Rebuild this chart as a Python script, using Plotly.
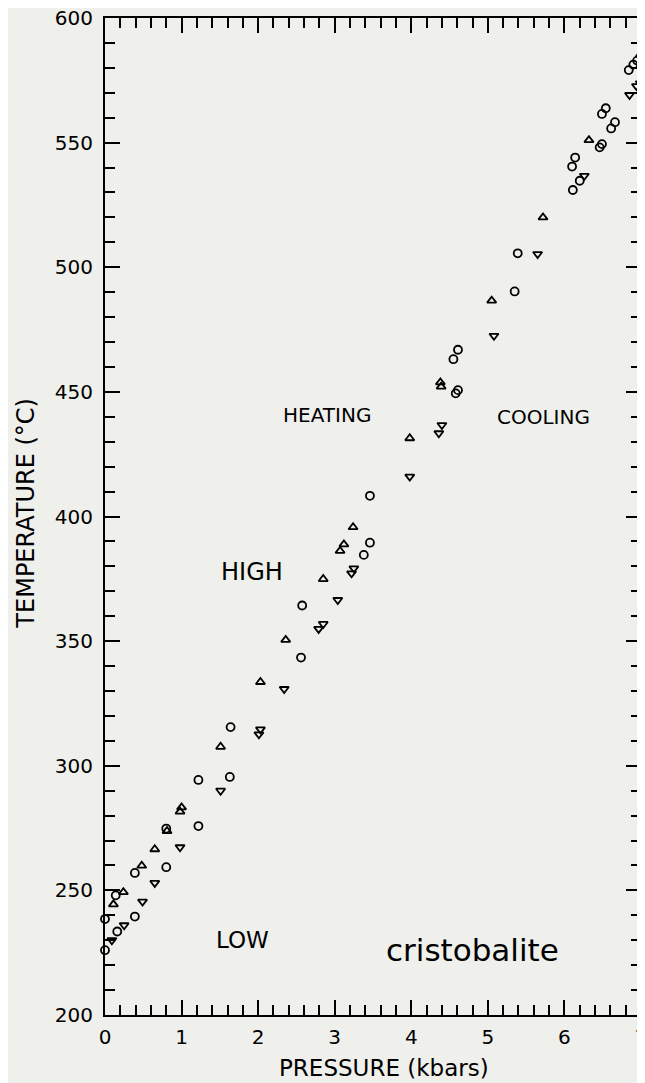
import plotly.graph_objects as go

# ---- data (pressure in kbar, temperature in °C) ----
circle_p = [0.00, 0.00, 0.14, 0.16, 0.39, 0.39, 0.80, 0.80, 1.22, 1.22, 1.63, 1.64,
            2.56, 2.575, 3.38, 3.46, 3.46, 4.55, 4.61, 4.58, 4.61, 5.35, 5.39,
            6.11, 6.20, 6.10, 6.14, 6.46, 6.49, 6.49, 6.54, 6.61, 6.66, 6.84, 6.90, 6.95]
circle_t = [226.0, 238.5, 248.0, 233.5, 239.5, 257.0, 259.3, 274.8, 275.8, 294.3, 295.5, 315.5,
            343.4, 364.3, 384.6, 389.5, 408.3, 463.1, 466.9, 449.4, 450.7, 490.3, 505.6,
            531.0, 534.7, 540.4, 544.0, 548.1, 549.4, 561.5, 563.8, 555.7, 558.2, 579.1, 581.3, 582.9]

up_p = [0.11, 0.24, 0.48, 0.65, 0.81, 0.98, 1.00, 1.51, 2.03, 2.36, 2.85, 3.07, 3.12, 3.24,
        3.98, 4.38, 4.39, 5.05, 5.72, 6.32, 6.99, 7.03]
up_t = [244.4, 249.3, 259.9, 266.5, 273.8, 281.6, 283.3, 307.6, 333.6, 350.5, 374.9, 386.2, 388.8, 395.7,
        431.4, 453.8, 452.1, 486.6, 520.0, 551.0, 585.2, 587.2]

down_p = [0.09, 0.25, 0.49, 0.65, 0.98, 1.51, 2.01, 2.03, 2.34, 2.79, 2.85, 3.04, 3.22, 3.25,
          3.98, 4.36, 4.40, 5.08, 5.65, 6.26, 6.85, 6.94, 6.99]
down_t = [230.0, 236.0, 245.5, 253.0, 267.3, 290.0, 312.6, 314.6, 330.8, 354.9, 356.9, 366.5, 377.2, 379.2,
          416.0, 433.4, 436.7, 472.5, 505.3, 536.7, 569.1, 572.7, 573.8]

x_ticks = [0, 1, 2, 3, 4, 5, 6, 7]
y_ticks = [200, 250, 300, 350, 400, 450, 500, 550, 600]

labels = ["HEATING", "COOLING", "HIGH", "LOW", "cristobalite"]
label_p = [2.895, 5.73, 1.92, 1.79, 4.80]
label_t = [440.7, 439.9, 377.7, 229.9, 226.0]
label_size = [20, 20, 24, 23, 31]

FONT = "DejaVu Sans"

fig = go.Figure()
for xs, ys, sym, sz in [(circle_p, circle_t, "circle-open", 8),
                        (up_p, up_t, "triangle-up-open", 8),
                        (down_p, down_t, "triangle-down-open", 8)]:
    fig.add_trace(go.Scatter(
        x=xs, y=ys, mode="markers", cliponaxis=False, showlegend=False,
        marker=dict(symbol=sym, size=sz, color="black",
                    line=dict(color="black", width=1.8)),
    ))

for txt, px, ty, sz in zip(labels, label_p, label_t, label_size):
    fig.add_annotation(x=px, y=ty, xref="x", yref="y", text=txt, showarrow=False,
                       xanchor="center", yanchor="middle",
                       font=dict(family=FONT, size=sz, color="black"))

# axis titles placed as in the reference
fig.add_annotation(x=0.52, y=-0.0535, xref="paper", yref="paper", text="PRESSURE (kbars)",
                   showarrow=False, xanchor="center", yanchor="middle",
                   font=dict(family=FONT, size=23, color="black"))
fig.add_annotation(x=-0.149, y=0.503, xref="paper", yref="paper", text="TEMPERATURE (°C)",
                   showarrow=False, xanchor="center", yanchor="middle", textangle=-90,
                   font=dict(family=FONT, size=24, color="black"))

axis_common = dict(
    ticks="inside", ticklen=15, tickwidth=2, tickcolor="black",
    showline=True, linewidth=2, linecolor="black", mirror="allticks",
    showgrid=False, zeroline=False, automargin=False, ticklabeloverflow="allow",
    tickfont=dict(family=FONT, size=20, color="black"),
)

# the page body adds an 8px offset, so the figure is 8px smaller than the window
fig.update_layout(
    template="none",
    width=637, height=1075,
    margin=dict(l=97, r=4, t=10, b=68, autoexpand=False),
    paper_bgcolor="#efefeb", plot_bgcolor="#efefeb",
    xaxis=dict(range=[0, 7], tickvals=x_ticks, ticktext=[str(v) for v in x_ticks],
               minor=dict(dtick=0.2, tick0=0, ticks="inside", ticklen=10, tickwidth=1.5,
                          tickcolor="black", showgrid=False),
               ticklabelstandoff=3,
               **axis_common),
    yaxis=dict(range=[200, 600], tickvals=y_ticks, ticktext=[str(v) for v in y_ticks],
               minor=dict(dtick=10, tick0=200, ticks="inside", ticklen=10, tickwidth=1.5,
                          tickcolor="black", showgrid=False),
               ticklabelstandoff=6,
               **axis_common),
)

fig.write_html("out.html")
